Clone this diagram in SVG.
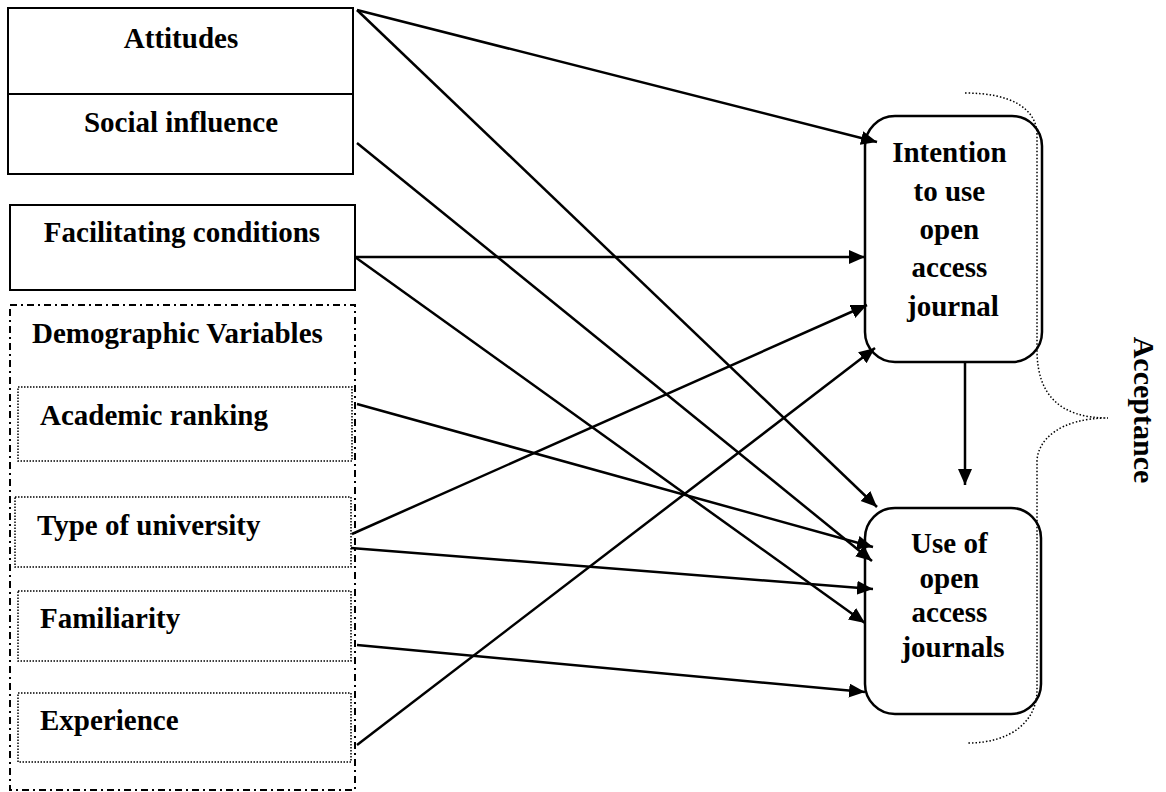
<svg xmlns="http://www.w3.org/2000/svg" width="1166" height="792" viewBox="0 0 1166 792">
<style>
  .t { font-family: "Liberation Serif", "Times New Roman", serif; font-weight: bold; font-size: 29px; fill: #000; }
  .box { fill: #fff; stroke: #000; stroke-width: 2; }
  .rbox { fill: #fff; stroke: #000; stroke-width: 2.5; }
  .dot { fill: none; stroke: #000; stroke-width: 1.5; stroke-dasharray: 1.5 1.5; }
  .dashdot { fill: none; stroke: #000; stroke-width: 2; stroke-dasharray: 7 4 2 4; }
  .conn line { stroke: #000; stroke-width: 2.5; marker-end: url(#arr); }
  .brace { fill: none; stroke: #000; stroke-width: 1.5; stroke-dasharray: 1.5 2; }
</style>
<defs>
  <marker id="arr" markerUnits="userSpaceOnUse" markerWidth="17" markerHeight="15" refX="16" refY="7" orient="auto">
    <path d="M0,0 L16,7 L0,14 z" fill="#000"/>
  </marker>
</defs>
<rect width="1166" height="792" fill="#fff"/>

<g id="attitudes-social">
  <rect class="box" x="8" y="8" width="345" height="166"/>
  <line x1="8" y1="94" x2="353" y2="94" stroke="#000" stroke-width="2"/>
  <text class="t" x="181" y="48" text-anchor="middle">Attitudes</text>
  <text class="t" x="181" y="132" text-anchor="middle">Social influence</text>
</g>

<g id="facilitating">
  <rect class="box" x="10" y="205" width="345" height="85"/>
  <text class="t" x="182" y="242" text-anchor="middle">Facilitating conditions</text>
</g>

<g id="demographic">
  <rect class="dashdot" x="10" y="305" width="345" height="485"/>
  <text class="t" x="32" y="343">Demographic Variables</text>
</g>

<g id="academic">
  <rect class="dot" x="18" y="387" width="334" height="74"/>
  <text class="t" x="40" y="425">Academic ranking</text>
</g>

<g id="type">
  <rect class="dot" x="15" y="497" width="336" height="70"/>
  <text class="t" x="37" y="535">Type of university</text>
</g>

<g id="familiarity">
  <rect class="dot" x="18" y="591" width="333" height="70"/>
  <text class="t" x="40" y="628">Familiarity</text>
</g>

<g id="experience">
  <rect class="dot" x="18" y="693" width="333" height="69"/>
  <text class="t" x="40" y="730">Experience</text>
</g>

<g id="intention">
  <rect class="rbox" x="865" y="116" width="177" height="246" rx="30" ry="30"/>
  <text class="t" text-anchor="middle">
    <tspan x="953" y="162">Intention</tspan>
    <tspan x="953" y="200.5">to use</tspan>
    <tspan x="953" y="239">open</tspan>
    <tspan x="953" y="277">access</tspan>
    <tspan x="953" y="316">journal</tspan>
  </text>
</g>

<g id="use">
  <rect class="rbox" x="865" y="508" width="176" height="206" rx="30" ry="30"/>
  <text class="t" text-anchor="middle">
    <tspan x="953" y="553">Use of</tspan>
    <tspan x="953" y="588">open</tspan>
    <tspan x="953" y="622">access</tspan>
    <tspan x="953" y="657">journals</tspan>
  </text>
</g>

<g id="acceptance">
  <path class="brace" d="M965,93 C1010,93 1037,108 1037,135 L1037,350 C1037,395 1060,418 1108,418 C1060,418 1037,440 1037,462 L1037,690 C1037,722 1010,743 968,743"/>
  <text class="t" transform="translate(1134,410) rotate(90)" text-anchor="middle" style="font-size:30px">Acceptance</text>
</g>

<g id="connectors" class="conn">
  <line x1="357" y1="10" x2="877" y2="142"/>
  <line x1="357" y1="10" x2="877" y2="507"/>
  <line x1="357" y1="143" x2="872" y2="561"/>
  <line x1="355" y1="257" x2="865" y2="257"/>
  <line x1="355" y1="257" x2="865" y2="623"/>
  <line x1="357" y1="404" x2="873" y2="547"/>
  <line x1="352" y1="534" x2="867" y2="305"/>
  <line x1="351" y1="548" x2="873" y2="589"/>
  <line x1="357" y1="645" x2="865" y2="692"/>
  <line x1="357" y1="745" x2="875" y2="348"/>
  <line x1="965" y1="362" x2="965" y2="485"/>
</g>
</svg>
